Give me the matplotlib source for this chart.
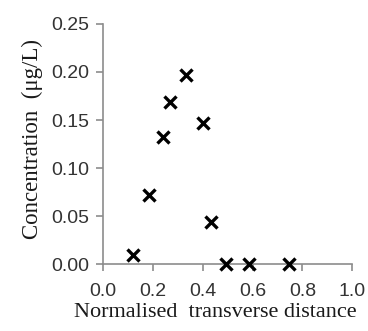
import matplotlib
matplotlib.use("Agg")
import matplotlib.pyplot as plt

distance = [0.12, 0.185, 0.24, 0.27, 0.333, 0.40, 0.435, 0.495, 0.587, 0.747]
concentration = [0.009, 0.072, 0.132, 0.169, 0.197, 0.147, 0.044, 0.0, 0.0, 0.0]
xticks = [0.0, 0.2, 0.4, 0.6, 0.8, 1.0]
yticks = [0.00, 0.05, 0.10, 0.15, 0.20, 0.25]

fig = plt.figure(figsize=(3.68, 3.31), dpi=100)
ax = fig.add_axes([0.28, 0.2024, 0.677, 0.7251])
ax.scatter(distance, concentration, marker='x', s=75, c='black', linewidths=2.4, clip_on=False, zorder=3)
ax.set_xlim(0, 1.0)
ax.set_ylim(0, 0.25)
ax.set_xticks(xticks)
ax.set_xticklabels([f"{v:.1f}" for v in xticks])
ax.set_yticks(yticks)
ax.set_yticklabels([f"{v:.2f}" for v in yticks])
for s in ['top', 'right']:
    ax.spines[s].set_visible(False)
for s in ['left', 'bottom']:
    ax.spines[s].set_color('#8c8c8c')
    ax.spines[s].set_linewidth(1.2)
ax.tick_params(axis='both', colors='#8c8c8c', length=5, width=1.2, labelcolor='#333333', labelsize=14)
ax.tick_params(axis='x', pad=9)
ax.tick_params(axis='y', pad=5)
for lab in ax.get_xticklabels() + ax.get_yticklabels():
    lab.set_family('Liberation Sans')
ax.set_xlabel('Normalised  transverse distance', family='Liberation Serif', fontsize=16, color='#1a1a1a', labelpad=2)
ax.xaxis.label.set_x(0.45)
ax.set_ylabel('Concentration  (\u03bcg/L)', family='Liberation Serif', fontsize=16.5, color='#1a1a1a', labelpad=6)
ax.yaxis.label.set_y(0.52)
fig.savefig('out.png', dpi=100)
